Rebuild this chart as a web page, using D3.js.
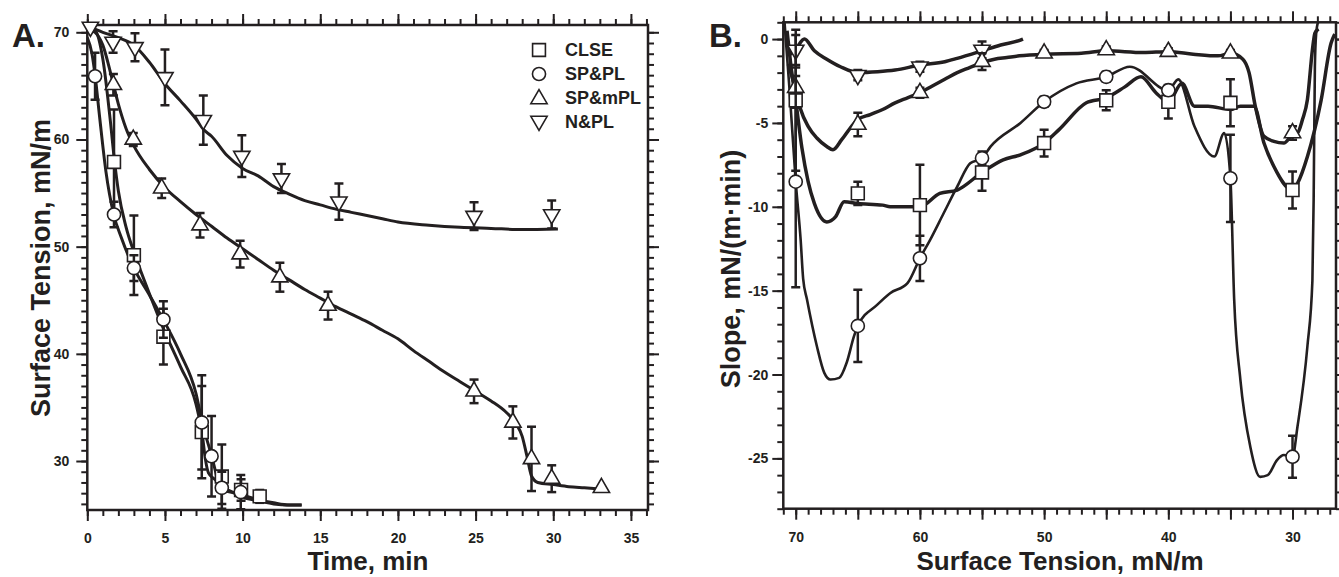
<!DOCTYPE html>
<html>
<head>
<meta charset="utf-8">
<script src="https://cdn.jsdelivr.net/npm/d3@7"></script>
<style>
body { margin: 0; background: #fff; }
text { font-family: "Liberation Sans", Arial, sans-serif; font-weight: bold; fill: #231f20; }
</style>
</head>
<body>
<script>
// ---- data ----
var seriesNames = ["CLSE", "SP&PL", "SP&mPL", "N&PL"];

// panel A: [time min, tension mN/m, error]
var aMarkCLSE = [[1.72,57.9,4.9],[3.0,49.2,3.7],[4.9,41.6,2.6],[7.37,32.7,4.3],[8.66,28.55,3.0],[9.9,27.3,1.0],[11.1,26.7,0.6]];
var aMarkSPPL = [[0.5,65.9,2.2],[1.72,53.0,1.2],[3.0,48.0,1.2],[4.9,43.2,1.7],[7.37,33.6,4.4],[8.0,30.45,3.75],[8.66,27.5,1.5],[9.88,27.1,1.6]];
var aMarkSPmPL = [[1.68,65.1,1.0],[2.96,60.0,0.6],[4.79,55.45,0.9],[7.26,52.0,1.15],[9.84,49.3,1.25],[12.4,47.15,1.35],[15.5,44.5,1.3],[24.9,36.5,1.1],[27.4,33.6,1.5],[28.6,30.2,3.0],[29.9,28.35,1.25],[33.1,27.5,0]];
var aMarkNPL = [[0.2,70.5,0],[1.66,69.1,1.0],[3.07,68.6,1.3],[5.0,65.8,2.6],[7.47,61.8,2.3],[9.95,58.45,1.95],[12.5,56.35,1.35],[16.2,54.2,1.7],[24.9,52.85,1.3],[29.9,53.0,1.3]];

var aLineCLSE = [[0,70.5],[0.5,70.2],[1,67.5],[1.5,61.5],[1.75,58],[2,55.2],[2.5,51.8],[3,49.5],[3.5,47.5],[4,45.6],[5,42.0],[6,38.8],[7,35.3],[7.4,32.5],[7.6,30.2],[7.8,28.9],[8.2,28.3],[8.7,27.6],[9.5,27.0],[10,26.6],[11,26.3],[12,26.0],[13,25.9],[13.8,25.9]];
var aLineSPPL = [[0,69.5],[0.3,68],[0.5,66],[0.8,62],[1.2,57],[1.7,53],[2.2,50.8],[3,48],[4,45.5],[5,42.9],[6,40.0],[7,36.3],[7.4,33.6],[7.8,31.5],[8,30.5],[8.4,28.3],[8.8,27.3],[9.5,27.0],[10,26.8],[11,26.4],[12,26.1],[13,25.9],[13.8,25.9]];
var aLineSPmPL = [[0,70.3],[0.5,70.0],[1,68.8],[1.5,66.2],[2,63.3],[2.5,61.0],[3,59.4],[4,57.2],[5,55.5],[6,54.2],[7,53.0],[8,51.9],[9,50.8],[10,49.8],[11,48.8],[12,47.8],[13,46.9],[14,46.0],[15,45.2],[16,44.4],[17,43.7],[18,43.0],[19,42.2],[20,41.4],[21,40.3],[22,39.3],[23,38.3],[24,37.4],[25,36.5],[26,35.6],[27,34.5],[27.6,33.5],[28,32.3],[28.3,30.5],[28.6,28.6],[29,28.0],[30,27.8],[31,27.6],[32,27.5],[33,27.4]];
var aLineNPL = [[0,70.6],[1,70.0],[2,69.5],[3,68.8],[4,67.2],[5,65.2],[6,63.6],[7,61.9],[7.5,60.9],[8,60.3],[9,58.5],[10,57.3],[11,56.6],[12,55.6],[13,54.9],[14,54.3],[15,53.9],[16,53.5],[17,53.2],[18,52.9],[19,52.6],[20,52.3],[22,52.0],[24,51.8],[26,51.7],[28,51.6],[30.3,51.65]];

// panel B: [surface tension mN/m, slope mN/(m·min), error]
var bMarkCLSE = [[70,-3.65,4.2],[65,-9.2,0.7],[60,-9.9,2.4],[55,-7.95,1.1],[50,-6.2,0.8],[45,-3.65,0.6],[40,-3.74,1.0],[35,-3.8,1.4],[30,-9.0,1.1]];
var bMarkSPPL = [[70,-8.5,6.3],[65,-17.1,2.15],[60,-13.07,1.35],[55,-7.1,0.4],[50,-3.74,0.3],[45,-2.25,0.3],[40,-3.05,0.3],[35,-8.3,2.6],[30,-24.9,1.25]];
var bMarkSPmPL = [[70,-2.9,1.2],[65,-5.1,0.7],[60,-3.2,0.3],[55,-1.35,0.5],[50,-0.85,0.2],[45,-0.65,0.2],[40,-0.75,0.2],[35,-0.85,0.2],[30,-5.6,0.4]];
var bMarkNPL = [[70,-0.65,0.9],[65,-2.15,0.3],[60,-1.65,0.3],[55,-0.65,0.5]];

var bLineCLSE = [[70.7,0.5],[70.4,-1.5],[70,-3.65],[69.5,-6.5],[69,-8.5],[68.5,-9.8],[67.5,-10.9],[66.8,-10.6],[66.1,-9.7],[65,-9.8],[63,-9.9],[62.4,-10.0],[60,-10.0],[58.4,-9.2],[57,-9.0],[55,-7.95],[53.3,-7.2],[51.9,-6.9],[50,-6.2],[48.8,-5.4],[46.6,-3.8],[45,-3.5],[43.5,-2.85],[42.2,-2.25],[41,-3.2],[40,-3.74],[38.9,-2.64],[37.9,-4.0],[36.8,-4.0],[35,-4.2],[34.2,-4.0],[33.1,-4.0],[32.3,-6.2],[31.5,-7.6],[30,-9.0],[29.6,-8.6],[28.8,-7.0],[27.7,-3.65],[26.9,-0.25],[26.6,0.3]];
var bLineSPPL = [[70.9,1.0],[70.5,-3.0],[70.0,-8.5],[69.6,-12.0],[69.4,-14.3],[69.1,-15.5],[68.3,-18.3],[67.7,-19.9],[67.2,-20.3],[66.5,-20.2],[65.9,-19.3],[65.3,-17.7],[65,-17.1],[63.45,-15.85],[62.4,-15.15],[61.0,-14.55],[60,-13.07],[59.2,-12.0],[58.1,-10.4],[57.0,-8.8],[55.95,-7.4],[55,-7.1],[54.3,-6.4],[51.9,-5.0],[50,-3.74],[47.4,-2.64],[45,-2.25],[43.1,-1.65],[40,-3.05],[39.2,-2.4],[37.9,-5.2],[36.3,-7.0],[35.5,-5.6],[35,-8.3],[34.7,-15.5],[34.2,-20.3],[33.4,-24.3],[32.6,-26.1],[32.0,-26.0],[31.25,-25.1],[30.7,-24.8],[30,-24.9],[29.6,-23.1],[28.8,-18.3],[28.4,-14.4],[28.3,-9.6],[28.2,-1.65],[28.1,0.3],[27.95,1.0]];
var bLineSPmPL = [[70.6,-1.5],[70.2,-2.5],[70,-3.0],[69.6,-4.2],[69.0,-5.2],[68.3,-5.9],[67.5,-6.4],[67.0,-6.6],[66.3,-6.0],[65.5,-5.2],[65,-4.8],[64,-4.5],[63,-4.2],[62,-3.8],[61,-3.5],[60,-3.2],[59,-2.8],[58,-2.4],[57,-2.0],[56,-1.7],[55,-1.4],[54,-1.2],[53,-1.1],[52,-1.0],[50,-0.9],[47,-0.85],[45,-0.7],[42,-0.8],[40,-0.75],[38,-0.9],[36,-1.0],[35,-0.85],[34,-1.2],[33.5,-2.0],[33,-4.0],[32.3,-5.8],[31.5,-6.1],[30.7,-6.2],[30,-5.7],[29.6,-5.6],[29.2,-4.8],[28.8,-3.6],[28.4,-0.65],[28.2,0.35],[27.9,0.6]];
var bLineNPL = [[70.6,-1.0],[70.0,-0.6],[69.3,0.0],[68.5,-0.7],[67.5,-1.2],[66.4,-1.65],[65,-2.0],[63.4,-1.95],[62,-1.85],[60,-1.55],[58,-1.35],[57,-1.15],[55,-0.7],[53.5,-0.35],[51.9,-0.06],[51.7,0.0]];

var aXMajor = [0,5,10,15,20,25,30,35];
var aYMajor = [30,40,50,60,70];
var bXMajor = [70,65,60,55,50,45,40,35,30];
var bXLabels = [70,60,50,40,30];
var bYMajor = [0,-5,-10,-15,-20,-25];

var ink = "#231f20";

var svg = d3.select("body").append("svg")
            .attr("width", 1339)
            .attr("height", 577);

// scales
var xA = d3.scaleLinear().domain([0, 36.1]).range([87.3, 648]);
var yA = d3.scaleLinear().domain([25.43, 70.68]).range([510, 25]);
var xB = d3.scaleLinear().domain([71, 26.5]).range([783.3, 1336]);
var yB = d3.scaleLinear().domain([-28.0, 1.0]).range([508.7, 22.3]);

// draws a frame with outward ticks on all four sides
function frame(id, x, y, xMinor, xMajor, xLab, yMinor, yMajor, yFmt, pad) {
    var x0 = d3.min(x.range()), x1 = d3.max(x.range());
    var y0 = d3.min(y.range()), y1 = d3.max(y.range());
    var g = svg.append("g");
    var sides = [
        [d3.axisBottom, x, "translate(0," + y1 + ")", true],
        [d3.axisTop, x, "translate(0," + y0 + ")", false],
        [d3.axisLeft, y, "translate(" + x0 + ",0)", true],
        [d3.axisRight, y, "translate(" + x1 + ",0)", false]
    ];
    sides.forEach(function(s, i) {
        var horiz = i < 2;
        var minor = s[0](s[1]).tickValues(horiz ? xMinor : yMinor).tickSize(6).tickFormat("");
        var major = s[0](s[1]).tickValues(horiz ? xMajor : yMajor).tickSize(11)
                        .tickPadding(horiz ? 12 : pad);
        if (!s[3]) major.tickFormat("");
        else major.tickFormat(horiz ? xLab : yFmt);
        [minor, major].forEach(function(ax) {
            var a = g.append("g").attr("transform", s[2]).call(ax);
            a.select(".domain").remove();
            a.selectAll("line").attr("stroke", ink).attr("stroke-width", 2);
            a.selectAll("text").attr("font-size", 14).attr("fill", ink);
            a.attr("font-family", null).attr("font-size", null);
        });
    });
    g.append("rect").attr("x", x0).attr("y", y0)
     .attr("width", x1 - x0).attr("height", y1 - y0)
     .attr("fill", "none").attr("stroke", ink).attr("stroke-width", 2.5);

    svg.append("clipPath").attr("id", id)
       .append("rect").attr("x", x0).attr("y", y0)
       .attr("width", x1 - x0).attr("height", y1 - y0);
}

var symTypes = [d3.symbolSquare, d3.symbolCircle, d3.symbolTriangle, d3.symbolTriangle];
var symSizes = [165, 135, 115, 115];

function marker(g, i, cx, cy) {
    g.append("path")
     .attr("d", d3.symbol().type(symTypes[i]).size(symSizes[i])())
     .attr("transform", "translate(" + cx + "," + cy + ")" + (i === 3 ? " rotate(180)" : ""))
     .attr("fill", "#fff").attr("stroke", ink).attr("stroke-width", 1.6);
}

function series(clip, x, y, line, width) {
    var g = svg.append("g").attr("clip-path", "url(#" + clip + ")");
    g.append("path")
     .datum(line)
     .attr("d", d3.line().x(function(d) { return x(d[0]); }).y(function(d) { return y(d[1]); })
                 .curve(d3.curveMonotoneX))
     .attr("fill", "none").attr("stroke", ink).attr("stroke-width", width)
     .attr("stroke-linejoin", "round");
}

function points(clip, x, y, marks, idx) {
    var g = svg.append("g").attr("clip-path", "url(#" + clip + ")");
    marks.forEach(function(m) {
        if (m[2] > 0) {
            var px = x(m[0]), t = y(m[1] + m[2]), b = y(m[1] - m[2]);
            g.append("line").attr("x1", px).attr("x2", px).attr("y1", t).attr("y2", b)
             .attr("stroke", ink).attr("stroke-width", 2.5);
            [t, b].forEach(function(v) {
                g.append("line").attr("x1", px - 4.5).attr("x2", px + 4.5).attr("y1", v).attr("y2", v)
                 .attr("stroke", ink).attr("stroke-width", 2.5);
            });
        }
    });
    var gm = svg.append("g");
    marks.forEach(function(m) { marker(gm, idx, x(m[0]), y(m[1])); });
}

// ---- panel A ----
frame("clipA", xA, yA, d3.range(0, 37, 1), aXMajor, function(d) { return d; },
      d3.range(26, 71, 1), aYMajor, function(d) { return d; }, 7);

var aLines = [aLineCLSE, aLineSPPL, aLineSPmPL, aLineNPL];
var aMarks = [aMarkCLSE, aMarkSPPL, aMarkSPmPL, aMarkNPL];
aLines.forEach(function(l) { series("clipA", xA, yA, l, 3); });
[3, 2, 0, 1].forEach(function(i) { points("clipA", xA, yA, aMarks[i], i); });

// legend
var lg = svg.append("g");
seriesNames.forEach(function(n, i) {
    var ly = 50 + i * 24;
    marker(lg, i, 539, ly + (i === 2 ? 1 : (i === 3 ? -1 : 0)));
    lg.append("text").attr("x", 565).attr("y", ly).attr("dy", "0.36em")
      .attr("font-size", 18).text(n);
});

// ---- panel B ----
frame("clipB", xB, yB, d3.range(27, 72, 1), bXMajor,
      function(d) { return bXLabels.indexOf(d) >= 0 ? d : ""; },
      d3.range(-28, 2, 1), bYMajor,
      function(d) { return d < 0 ? "-" + Math.abs(d) : d; }, 4);

var bLines = [bLineCLSE, bLineSPPL, bLineSPmPL, bLineNPL];
var bMarks = [bMarkCLSE, bMarkSPPL, bMarkSPmPL, bMarkNPL];
var bWidths = [3.5, 2.6, 3.5, 3.5];
bLines.forEach(function(l, i) { series("clipB", xB, yB, l, bWidths[i]); });
[3, 2, 0, 1].forEach(function(i) { points("clipB", xB, yB, bMarks[i], i); });

// ---- labels ----
svg.append("text").attr("x", 12).attr("y", 47).attr("font-size", 33).text("A.");
svg.append("text").attr("x", 709).attr("y", 47).attr("font-size", 33).text("B.");

svg.append("text").attr("x", 368).attr("y", 570).attr("text-anchor", "middle")
   .attr("font-size", 26).text("Time, min");
svg.append("text").attr("x", 1060).attr("y", 570).attr("text-anchor", "middle")
   .attr("font-size", 26).text("Surface Tension, mN/m");
svg.append("text").attr("transform", "translate(50,268) rotate(-90)")
   .attr("text-anchor", "middle").attr("font-size", 27).text("Surface Tension, mN/m");
svg.append("text").attr("transform", "translate(740,269) rotate(-90)")
   .attr("text-anchor", "middle").attr("font-size", 27).text("Slope, mN/(m\u00b7min)");
</script>
</body>
</html>
